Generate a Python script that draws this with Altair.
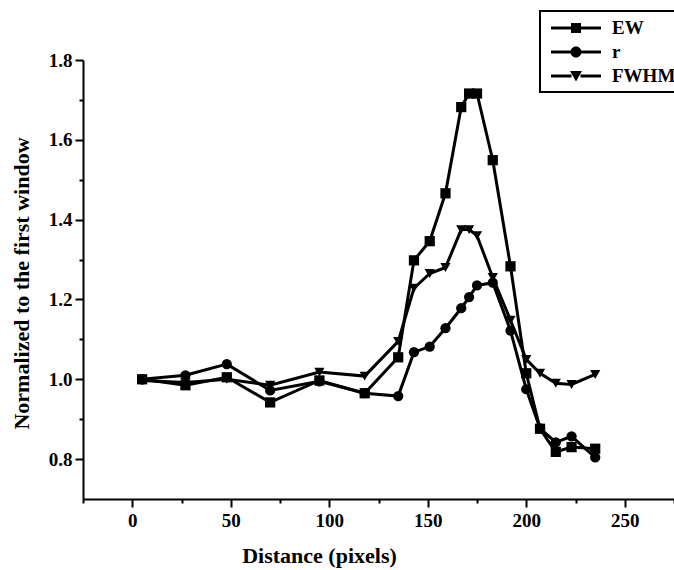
import altair as alt
import pandas as pd

# Window positions along the profile (pixels)
distance = [5, 27, 48, 70, 95, 118, 135, 143, 151, 159, 167, 171, 175, 183,
            192, 200, 207, 215, 223, 235]

# Parameters normalized to the first window
ew = [1.000, 0.985, 1.005, 0.942, 0.997, 0.965, 1.055, 1.298, 1.346, 1.466,
      1.682, 1.716, 1.716, 1.549, 1.283, 1.015, 0.876, 0.818, 0.830, 0.826]
r = [1.000, 1.010, 1.038, 0.972, 0.995, 0.965, 0.958, 1.068, 1.082, 1.128,
     1.178, 1.206, 1.235, 1.242, 1.122, 0.975, 0.877, 0.842, 0.857, 0.804]
fwhm = [0.997, 0.992, 1.000, 0.985, 1.018, 1.008, 1.095, 1.228, 1.265, 1.280,
        1.375, 1.375, 1.360, 1.255, 1.148, 1.050, 1.015, 0.990, 0.987, 1.012]

series = ["EW", "r", "FWHM"]
marker_shapes = ["square", "circle", "triangle-down"]

# Legend symbols: a short line (two filled bars) with the marker in its middle
_bars = "M-2.5,-0.14 H-0.45 V0.14 H-2.5 Z M0.45,-0.14 H2.5 V0.14 H0.45 Z "
legend_shapes = [
    _bars + "M-0.5,-0.5 H0.5 V0.5 H-0.5 Z",
    _bars + "M-0.55,0 A0.55,0.55 0 1,1 0.55,0 A0.55,0.55 0 1,1 -0.55,0 Z",
    _bars + "M-0.6,-0.5 L0.6,-0.5 L0,0.55 Z",
]

rows = []
for name, vals in zip(series, [ew, r, fwhm]):
    for d, v in zip(distance, vals):
        rows.append({"distance": d, "value": v, "series": name})
df = pd.DataFrame(rows)

FONT = "Liberation Serif"

x_ticks = list(range(-25, 276, 25))
y_ticks = [round(0.8 + 0.1 * i, 1) for i in range(11)]

x_scale = alt.Scale(domain=[-25, 275], nice=False, zero=False)
y_scale = alt.Scale(domain=[0.7, 1.8], nice=False, zero=False)

x_enc = alt.X(
    "distance:Q", scale=x_scale,
    axis=alt.Axis(
        title="Distance (pixels)", values=x_ticks, grid=False,
        labelExpr="datum.value % 50 == 0 ? datum.label : ''",
        tickSize={"condition": {"test": "datum.value % 50 == 0", "value": 8}, "value": 4},
        tickWidth=2, domainWidth=2, domainColor="black", tickColor="black",
        labelFont=FONT, labelFontSize=19, labelFontWeight="bold", labelColor="black",
        labelPadding=4, labelFlush=False,
        titleFont=FONT, titleFontSize=22, titleFontWeight="bold", titleColor="black",
        titleX=236, titleY=63, titleBaseline="alphabetic", titleAlign="center",
    ),
)
y_enc = alt.Y(
    "value:Q", scale=y_scale,
    axis=alt.Axis(
        title="Normalized to the first window", values=y_ticks, grid=False,
        labelExpr="round(datum.value * 10) % 2 == 0 ? format(datum.value, '.1f') : ''",
        tickSize={"condition": {"test": "round(datum.value * 10) % 2 == 0", "value": 8}, "value": 4},
        tickWidth=2, domainWidth=2, domainColor="black", tickColor="black",
        labelFont=FONT, labelFontSize=19, labelFontWeight="bold", labelColor="black",
        labelPadding=3, labelFlush=False,
        titleFont=FONT, titleFontSize=22, titleFontWeight="bold", titleColor="black",
        titleX=-55, titleY=223, titleAngle=-90, titleBaseline="alphabetic",
        titleAlign="center",
    ),
)

lines = alt.Chart(df).mark_line(color="black", strokeWidth=3).encode(
    x=x_enc, y=y_enc, detail="series:N",
    order="distance:Q",
)

points = alt.Chart(df).mark_point(filled=True, color="black", opacity=1, size=105).encode(
    x=x_enc, y=y_enc,
    shape=alt.Shape("series:N", scale=alt.Scale(domain=series, range=marker_shapes), legend=None),
)

legend_layer = alt.Chart(df).mark_point(
    filled=True, color="black", opacity=0, size=400
).encode(
    x=x_enc, y=y_enc,
    shape=alt.Shape(
        "series:N",
        scale=alt.Scale(domain=series, range=legend_shapes),
        legend=alt.Legend(
            title=None, orient="none", legendX=457, legendY=-49,
            symbolSize=400, symbolOpacity=1, symbolFillColor="black",
            symbolOffset=19,
            labelFont=FONT, labelFontSize=19, labelFontWeight="bold",
            labelColor="black", labelOffset=25, rowPadding=3,
            strokeColor="black", padding=6, offset=0,
        ),
    ),
)

chart = alt.layer(lines, points, legend_layer).resolve_scale(
    shape="independent"
).properties(
    width=591, height=439,
    autosize=alt.AutoSizeParams(type="none"),
    padding={"left": 83, "top": 60, "right": 0, "bottom": 71},
).configure_view(stroke=None).configure_legend(
    strokeWidth=2, cornerRadius=0, fillColor="white"
)

chart.save("out.html", embed_options={"renderer": "svg", "actions": False})
